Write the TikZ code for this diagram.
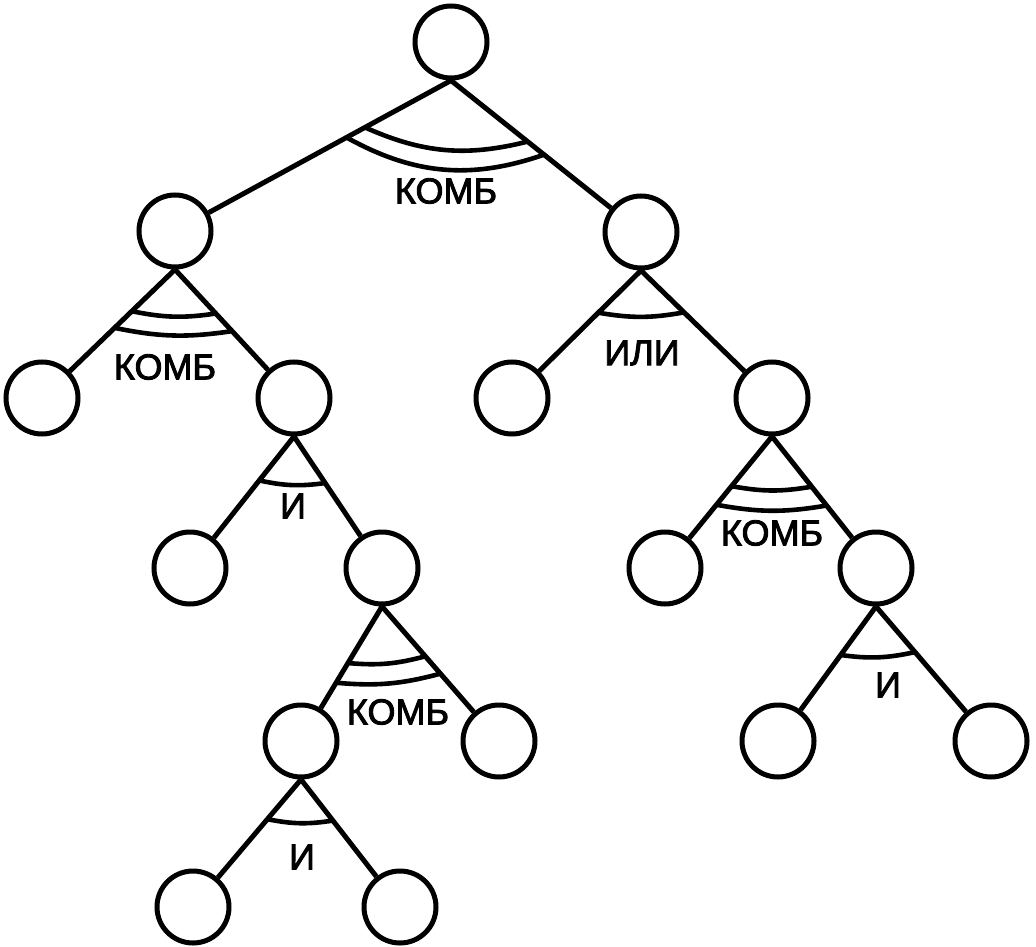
\documentclass[tikz,border=0pt]{standalone}
\usepackage{fontspec}
\setmainfont{Liberation Sans}
\newfontfamily\labelfont[RawFeature={embolden=2.5}]{Liberation Sans}
\usetikzlibrary{calc}
\begin{document}
\begin{tikzpicture}[x=1pt,y=-1pt]
    \useasboundingbox (0,0) rectangle (1036,947);
    \tikzstyle{every node}=[circle, draw=black, line width=5pt, inner sep=0pt, minimum size=72pt]
    \tikzstyle{edge}=[black, line width=5pt]
    \tikzstyle{link}=[black, line width=4.6pt]

    \node (r) at (451,42) {};
    \node (a) at (175,231) {};
    \node (b) at (641,232) {};
    \node (c) at (42,398) {};
    \node (d) at (294,398) {};
    \node (e) at (512,398) {};
    \node (f) at (772,398) {};
    \node (g) at (190,568) {};
    \node (h) at (382,568) {};
    \node (i) at (665,568) {};
    \node (j) at (876,568) {};
    \node (k) at (301,741) {};
    \node (l) at (499,741) {};
    \node (m) at (778,741) {};
    \node (n) at (991,741) {};
    \node (o) at (193,907) {};
    \node (p) at (400,907) {};

    \draw[edge] (r.south) -- (a);
    \draw[edge] (r.south) -- (b);
    \draw[edge] (a.south) -- (c);
    \draw[edge] (a.south) -- (d);
    \draw[edge] (b.south) -- (e);
    \draw[edge] (b.south) -- (f);
    \draw[edge] (d.south) -- (g);
    \draw[edge] (d.south) -- (h);
    \draw[edge] (f.south) -- (i);
    \draw[edge] (f.south) -- (j);
    \draw[edge] (h.south) -- (k);
    \draw[edge] (h.south) -- (l);
    \draw[edge] (j.south) -- (m);
    \draw[edge] (j.south) -- (n);
    \draw[edge] (k.south) -- (o);
    \draw[edge] (k.south) -- (p);

    % double arcs for KOMB, single arcs for I / ILI
    \draw[link] ($(r.south)!98pt!(a)$) to[bend right=19] ($(r.south)!98pt!(b)$);
    \draw[link] ($(r.south)!119pt!(a)$) to[bend right=24] ($(r.south)!119pt!(b)$);
    \draw[link] ($(a.south)!60pt!(c)$) to[bend right=10] ($(a.south)!60pt!(d)$);
    \draw[link] ($(a.south)!84pt!(c)$) to[bend right=10] ($(a.south)!84pt!(d)$);
    \draw[link] ($(b.south)!60pt!(e)$) to[bend right=10] ($(b.south)!60pt!(f)$);
    \draw[link] ($(d.south)!56pt!(g)$) to[bend right=10] ($(d.south)!56pt!(h)$);
    \draw[link] ($(f.south)!64pt!(i)$) to[bend right=10] ($(f.south)!64pt!(j)$);
    \draw[link] ($(f.south)!88pt!(i)$) to[bend right=10] ($(f.south)!88pt!(j)$);
    \draw[link] ($(h.south)!66pt!(k)$) to[bend right=10] ($(h.south)!66pt!(l)$);
    \draw[link] ($(h.south)!89pt!(k)$) to[bend right=10] ($(h.south)!89pt!(l)$);
    \draw[link] ($(j.south)!60pt!(m)$) to[bend right=10] ($(j.south)!60pt!(n)$);
    \draw[link] ($(k.south)!52pt!(o)$) to[bend right=10] ($(k.south)!52pt!(p)$);

    \tikzstyle{every node}=[inner sep=0pt, font=\labelfont\fontsize{36}{40}\selectfont]
    \node (t1) at (446,191) {КОМБ};
    \node (t2) at (165,367) {КОМБ};
    \node (t3) at (642,353) {ИЛИ};
    \node (t4) at (293,506) {И};
    \node (t5) at (772,533) {КОМБ};
    \node (t6) at (398,712) {КОМБ};
    \node (t7) at (888,685) {И};
    \node (t8) at (302,857) {И};
\end{tikzpicture}
\end{document}
